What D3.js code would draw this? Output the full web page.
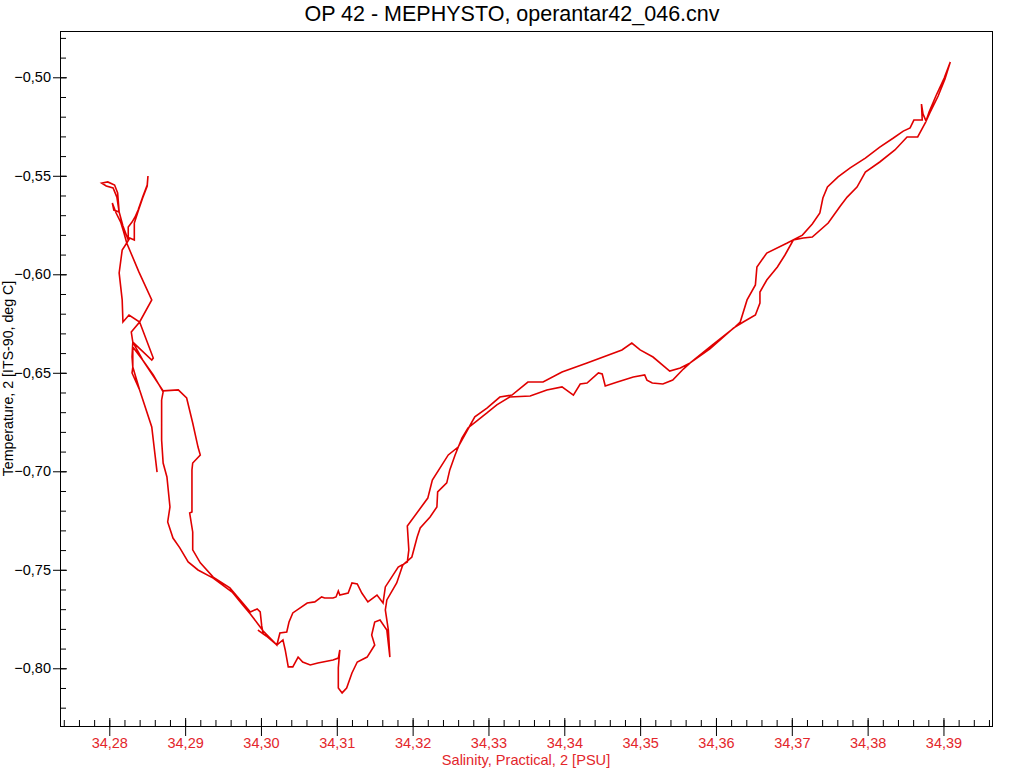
<!DOCTYPE html>
<html>
<head>
<meta charset="utf-8">
<script src="https://cdnjs.cloudflare.com/ajax/libs/d3/7.8.5/d3.min.js"></script>
<title>OP 42 - MEPHYSTO</title>
<style>
    body { margin: 0; background: #fff; }
    text { font-family: "Liberation Sans", Arial, sans-serif; }
</style>
</head>
<body>
<div id="graph"></div>
<script>

// salinity [PSU] and temperature [deg C], in drawing order
var salinity = [
    34.3909, 34.3901, 34.3890, 34.3881, 34.3877, 34.3873, 34.3871, 34.3872, 34.3861, 34.3856,
    34.3847, 34.3834, 34.3816, 34.3797, 34.3777, 34.3761, 34.3747, 34.3741, 34.3737, 34.3727,
    34.3714, 34.3694, 34.3667, 34.3654, 34.3652, 34.3641, 34.3632, 34.3625, 34.3595, 34.3566,
    34.3553, 34.3539, 34.3517, 34.3500, 34.3489, 34.3476, 34.3430, 34.3397, 34.3372, 34.3352,
    34.3331, 34.3315, 34.3298, 34.3282, 34.3276, 34.3260, 34.3247, 34.3226, 34.3220, 34.3193,
    34.3195, 34.3193, 34.3181, 34.3164, 34.3161, 34.3153, 34.3141, 34.3133, 34.3127, 34.3120,
    34.3115, 34.3104, 34.3102, 34.3099, 34.3095, 34.3084, 34.3080, 34.3071, 34.3061, 34.3042,
    34.3037, 34.3034, 34.3025, 34.3021, 34.3012, 34.3003, 34.2996, 34.2986, 34.2976, 34.2962,
    34.2937, 34.2917, 34.2904, 34.2893, 34.2884, 34.2877, 34.2880, 34.2876, 34.2871, 34.2869,
    34.2869, 34.2871, 34.2858, 34.2844, 34.2831, 34.2829, 34.2840, 34.2856, 34.2839, 34.2823,
    34.2819, 34.2815, 34.2809, 34.2804, 34.2806, 34.2813, 34.2811, 34.2807, 34.2798, 34.2790,
    34.2796, 34.2805, 34.2810, 34.2813, 34.2818, 34.2825, 34.2825, 34.2830, 34.2834, 34.2838,
    34.2844, 34.2850, 34.2851, 34.2850, 34.2844, 34.2839, 34.2833, 34.2833, 34.2827, 34.2823,
    34.2817, 34.2813, 34.2817, 34.2818, 34.2826, 34.2840, 34.2858, 34.2856, 34.2831, 34.2830,
    34.2831, 34.2830, 34.2840, 34.2856, 34.2860, 34.2863, 34.2860, 34.2856, 34.2840, 34.2831,
    34.2831, 34.2844, 34.2871, 34.2891, 34.2902, 34.2910, 34.2917, 34.2920, 34.2910, 34.2909,
    34.2909, 34.2906, 34.2910, 34.2910, 34.2920, 34.2937, 34.2959, 34.2976, 34.2986, 34.2995,
    34.2999, 34.3001, 34.3003, 34.2996, 34.3007, 34.3021, 34.3029, 34.3032, 34.3036, 34.3042,
    34.3049, 34.3055, 34.3065, 34.3075, 34.3095, 34.3102, 34.3104, 34.3102, 34.3102, 34.3107,
    34.3113, 34.3120, 34.3127, 34.3140, 34.3150, 34.3146, 34.3150, 34.3157, 34.3166, 34.3170,
    34.3168, 34.3164, 34.3166, 34.3179, 34.3187, 34.3199, 34.3206, 34.3210, 34.3223, 34.3232,
    34.3233, 34.3245, 34.3249, 34.3256, 34.3265, 34.3273, 34.3286, 34.3298, 34.3311, 34.3328,
    34.3355, 34.3377, 34.3397, 34.3412, 34.3421, 34.3430, 34.3445, 34.3450, 34.3454, 34.3470,
    34.3491, 34.3506, 34.3509, 34.3516, 34.3530, 34.3543, 34.3557, 34.3566, 34.3592, 34.3623,
    34.3636, 34.3652, 34.3658, 34.3658, 34.3667, 34.3681, 34.3691, 34.3702, 34.3715, 34.3727,
    34.3748, 34.3764, 34.3773, 34.3786, 34.3797, 34.3816, 34.3836, 34.3852, 34.3866, 34.3876,
    34.3882, 34.3893, 34.3902, 34.3909
];

var temperature = [
    -0.4922, -0.5004, -0.5095, -0.5176, -0.5222, -0.5186, -0.5136, -0.5217, -0.5217, -0.5257,
    -0.5273, -0.5308, -0.5354, -0.5410, -0.5460, -0.5506, -0.5557, -0.5613, -0.5689, -0.5745,
    -0.5801, -0.5841, -0.5892, -0.5963, -0.6054, -0.6130, -0.6242, -0.6268, -0.6359, -0.6450,
    -0.6476, -0.6491, -0.6420, -0.6384, -0.6349, -0.6384, -0.6450, -0.6496, -0.6547, -0.6547,
    -0.6613, -0.6623, -0.6679, -0.6724, -0.6765, -0.6877, -0.6917, -0.7044, -0.7136, -0.7278,
    -0.7399, -0.7460, -0.7486, -0.7587, -0.7669, -0.7628, -0.7663, -0.7618, -0.7572, -0.7567,
    -0.7618, -0.7628, -0.7608, -0.7638, -0.7643, -0.7643, -0.7638, -0.7663, -0.7669, -0.7719,
    -0.7765, -0.7816, -0.7821, -0.7882, -0.7846, -0.7811, -0.7775, -0.7724, -0.7679, -0.7613,
    -0.7542, -0.7501, -0.7460, -0.7389, -0.7339, -0.7257, -0.7181, -0.7029, -0.6958, -0.6841,
    -0.6638, -0.6597, -0.6511, -0.6435, -0.6344, -0.6293, -0.6242, -0.6130, -0.5988, -0.5841,
    -0.5785, -0.5735, -0.5689, -0.5638, -0.5674, -0.5684, -0.5587, -0.5547, -0.5531, -0.5537,
    -0.5552, -0.5562, -0.5608, -0.5684, -0.5755, -0.5826, -0.5760, -0.5735, -0.5709, -0.5674,
    -0.5608, -0.5547, -0.5501, -0.5552, -0.5613, -0.5669, -0.5740, -0.5826, -0.5816, -0.5841,
    -0.5877, -0.5993, -0.6130, -0.6242, -0.6207, -0.6242, -0.6425, -0.6435, -0.6344, -0.6420,
    -0.6471, -0.6501, -0.6587, -0.6775, -0.6907, -0.7004, -0.6907, -0.6775, -0.6587, -0.6471,
    -0.6369, -0.6435, -0.6592, -0.6587, -0.6628, -0.6755, -0.6877, -0.6917, -0.6958, -0.6993,
    -0.7207, -0.7212, -0.7308, -0.7399, -0.7465, -0.7537, -0.7592, -0.7669, -0.7714, -0.7699,
    -0.7714, -0.7785, -0.7826, -0.7806, -0.7836, -0.7882, -0.7856, -0.7907, -0.7993, -0.7993,
    -0.7943, -0.7968, -0.7983, -0.7973, -0.7958, -0.7948, -0.7907, -0.7998, -0.8100, -0.8125,
    -0.8100, -0.8024, -0.7968, -0.7943, -0.7882, -0.7831, -0.7765, -0.7755, -0.7806, -0.7943,
    -0.7806, -0.7704, -0.7653, -0.7567, -0.7476, -0.7435, -0.7334, -0.7288, -0.7232, -0.7181,
    -0.7105, -0.7059, -0.6993, -0.6917, -0.6831, -0.6780, -0.6740, -0.6704, -0.6663, -0.6623,
    -0.6618, -0.6587, -0.6572, -0.6613, -0.6557, -0.6552, -0.6501, -0.6506, -0.6567, -0.6547,
    -0.6521, -0.6511, -0.6537, -0.6552, -0.6557, -0.6537, -0.6481, -0.6450, -0.6379, -0.6273,
    -0.6242, -0.6207, -0.6146, -0.6090, -0.6029, -0.5963, -0.5902, -0.5826, -0.5816, -0.5811,
    -0.5740, -0.5653, -0.5608, -0.5557, -0.5481, -0.5430, -0.5369, -0.5303, -0.5303, -0.5232,
    -0.5181, -0.5095, -0.5009, -0.4922
];

// tick values
var xMajor = [34.28, 34.29, 34.30, 34.31, 34.32, 34.33, 34.34, 34.35, 34.36, 34.37, 34.38, 34.39];
var xMinor = d3.range(0, 62).map(function (i) { return 34.274 + i * 0.002 });
var yMajor = [-0.50, -0.55, -0.60, -0.65, -0.70, -0.75, -0.80];
var yMinor = d3.range(0, 35).map(function (i) { return -0.48 - i * 0.01 });

var title = "OP 42 - MEPHYSTO, operantar42_046.cnv";
var xTitle = "Salinity, Practical, 2 [PSU]";
var yTitle = "Temperature, 2 [ITS-90, deg C]";

// set the dimensions and margins of the graph
var W = 1024, H = 768;
var margin = { top: 31, right: 32, bottom: 42, left: 60 },
    width = W - margin.left - margin.right,
    height = H - margin.top - margin.bottom;

var svg = d3.select("#graph")
    .append("svg")
    .attr("width", W)
    .attr("height", H);

var x = d3.scaleLinear().domain([34.2735, 34.3964]).range([margin.left, margin.left + width]);
var y = d3.scaleLinear().domain([-0.8293, -0.4765]).range([margin.top + height, margin.top]);

var loc = d3.formatLocale({ decimal: ",", thousands: ".", grouping: [3], currency: ["", ""] });
var fmt = loc.format(".2f");

var red = "#e3262b";

// frame
svg.append("rect")
    .attr("x", margin.left + 0.5)
    .attr("y", margin.top + 0.5)
    .attr("width", width)
    .attr("height", height)
    .attr("fill", "none")
    .attr("stroke", "#000");

// x axis: labelled ticks below, short ticks above
var gx = svg.append("g").attr("transform", "translate(0," + (margin.top + height) + ")");
gx.append("g")
    .call(d3.axisBottom(x).tickValues(xMajor).tickSize(10).tickPadding(2).tickFormat(fmt))
    .call(function (g) { g.select(".domain").remove() })
    .call(function (g) {
        g.selectAll("text").attr("fill", red).attr("font-size", "14.5px")
            .style("font-family", '"Liberation Sans", Arial, sans-serif')
    });
gx.append("g")
    .call(d3.axisBottom(x).tickValues(xMajor).tickSize(-8).tickFormat(""))
    .call(function (g) { g.select(".domain").remove() });
gx.append("g")
    .call(d3.axisBottom(x).tickValues(xMinor).tickSize(-6).tickFormat(""))
    .call(function (g) { g.select(".domain").remove() });

// y axis
var gy = svg.append("g").attr("transform", "translate(" + margin.left + ",0)");
gy.append("g")
    .call(d3.axisLeft(y).tickValues(yMajor).tickSize(7).tickPadding(2).tickFormat(fmt))
    .call(function (g) { g.select(".domain").remove() })
    .call(function (g) {
        g.selectAll("text").attr("fill", "#000").attr("font-size", "14.5px")
            .style("font-family", '"Liberation Sans", Arial, sans-serif')
    });
gy.append("g")
    .call(d3.axisLeft(y).tickValues(yMajor).tickSize(-7).tickFormat(""))
    .call(function (g) { g.select(".domain").remove() });
gy.append("g")
    .call(d3.axisLeft(y).tickValues(yMinor).tickSize(-6).tickFormat(""))
    .call(function (g) { g.select(".domain").remove() });

// T-S profile
var pts = salinity.map(function (s, i) { return [s, temperature[i]] });
var line = d3.line()
    .x(function (d) { return x(d[0]) })
    .y(function (d) { return y(d[1]) });

svg.append("clipPath").attr("id", "clip")
    .append("rect")
    .attr("x", margin.left).attr("y", margin.top)
    .attr("width", width).attr("height", height);

svg.append("path")
    .datum(pts)
    .attr("clip-path", "url(#clip)")
    .attr("d", line)
    .attr("fill", "none")
    .attr("stroke", "#e00000")
    .attr("stroke-width", 1.6)
    .attr("stroke-linejoin", "miter");

// titles
svg.append("text")
    .attr("x", W / 2)
    .attr("y", 21)
    .attr("text-anchor", "middle")
    .attr("font-size", "21.5px")
    .attr("fill", "#000")
    .text(title);

svg.append("text")
    .attr("x", margin.left + width / 2)
    .attr("y", 765)
    .attr("text-anchor", "middle")
    .attr("font-size", "14.6px")
    .attr("fill", red)
    .text(xTitle);

svg.append("text")
    .attr("transform", "translate(13," + (margin.top + height / 2) + ") rotate(-90)")
    .attr("text-anchor", "middle")
    .attr("font-size", "14.2px")
    .attr("fill", "#000")
    .text(yTitle);

</script>
</body>
</html>
